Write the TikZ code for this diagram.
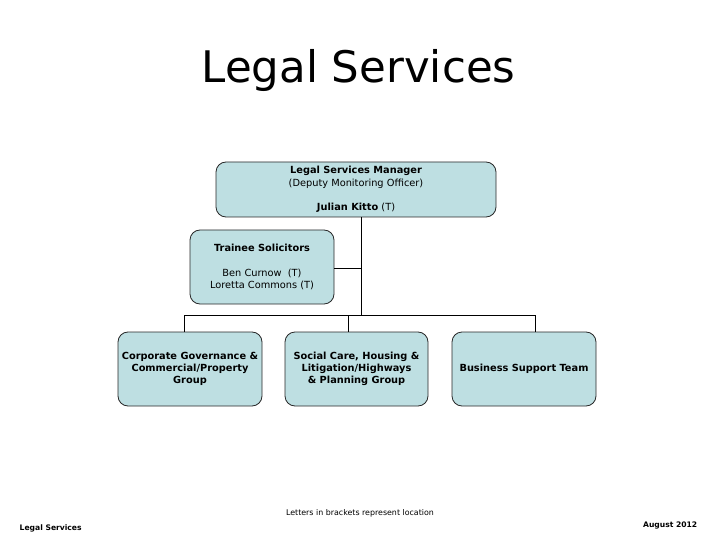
\documentclass[tikz,border=0pt]{standalone}
\usepackage{fontspec}
\setmainfont{DejaVu Sans}
\usepackage{tikz}
\usetikzlibrary{calc}
\usepackage{xcolor}
\definecolor{boxfill}{RGB}{190,223,226}
\definecolor{boxline}{RGB}{40,40,40}

\begin{document}
\begin{tikzpicture}[
      x=1pt, y=-1pt, line width=0.8pt,
      font=\fontsize{9.8}{12.3}\selectfont,
      unit/.style={draw=boxline, fill=boxfill, rounded corners=10pt, align=center,
                   inner sep=1pt},
      group/.style={unit, minimum width=144pt, minimum height=74pt},
      foot/.style={font=\fontsize{7.9}{9}\selectfont},
    ]
    \useasboundingbox (0,0) rectangle (720,540);

    % title
    \node[anchor=base, font=\fontsize{43.5}{50}\selectfont] (title) at (358.5,83) {Legal Services};

    % manager (top)
    \node[unit, minimum width=280pt, minimum height=55pt] (mgr) at (356,189.5)
      {\textbf{Legal Services Manager}\\(Deputy Monitoring Officer)\\[12pt]\textbf{Julian Kitto} (T)};

    % trainees (side)
    \node[unit, minimum width=144pt, minimum height=74pt] (trainee) at (262,267)
      {\textbf{Trainee Solicitors}\\[12pt]Ben Curnow\ \ (T)\\Loretta Commons (T)};

    % groups row
    \node[group] (corp) at (190,369)
      {\textbf{Corporate Governance \&}\\\textbf{Commercial/Property}\\\textbf{Group}};
    \node[group, minimum width=143pt] (social) at (356.5,369)
      {\textbf{Social Care, Housing \&}\\\textbf{Litigation/Highways}\\\textbf{\& Planning Group}};
    \node[group] (bst) at (524,369) {\textbf{Business Support Team}};

    % footer
    \node[foot, anchor=base] (note) at (360,515) {Letters in brackets represent location};
    \node[foot, anchor=base west, font=\fontsize{7.6}{9}\selectfont\bfseries] (dept) at (16,530) {Legal Services};
    \node[foot, anchor=base east, font=\fontsize{7.6}{9}\selectfont\bfseries] (date) at (701,527) {August 2012};

    % connectors
    \coordinate (bus) at (361,315);
    \draw ([xshift=5pt]mgr.south) -- (bus);
    \draw ([yshift=-1pt]trainee.east) -- ([yshift=-1pt]trainee.east -| bus);
    \draw ([xshift=-6pt]corp.north) |- ([xshift=11pt]bst.north |- bus) -- ([xshift=11pt]bst.north);
    \draw ([xshift=-8.5pt]social.north) -- ([xshift=-8.5pt]social.north |- bus);
  \end{tikzpicture}
\end{document}
